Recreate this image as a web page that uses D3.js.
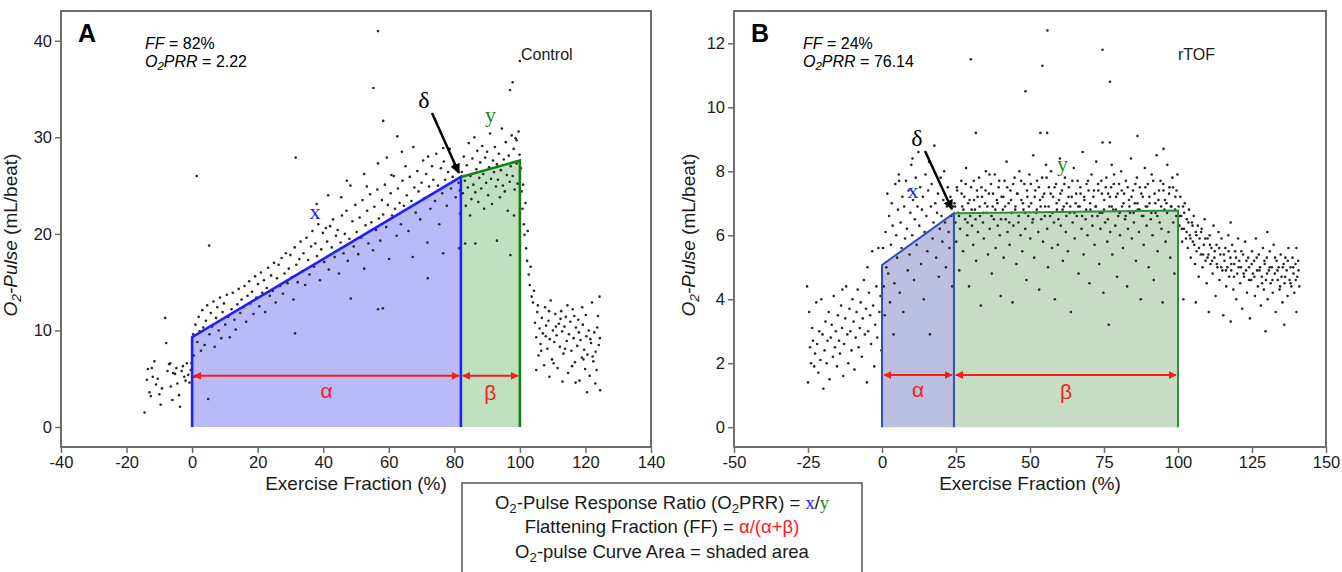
<!DOCTYPE html>
<html>
<head>
<meta charset="utf-8">
<script src="https://cdn.jsdelivr.net/npm/d3@7"></script>
<style>
  body { margin: 0; background: #fff; }
  svg { display: block; font-family: "Liberation Sans", Arial, sans-serif; }
</style>
</head>
<body>
<script>
// ---- panel A (Control): [exercise fraction %, O2-pulse mL/beat] ----
const controlRest = [[-14.5,1.5],[-13.8,4.9],[-13.5,6.0],[-13,3.6],[-12.6,3.2],[-12.3,6.1],[-12,5.2],[-11.5,6.8],[-11,4.4],[-10.5,5.0],[-10,3.4],[-9.6,2.3],[-9.2,4.0],[-8.2,11.3],[-7.9,8.7],[-7.5,5.8],[-7,6.5],[-6.7,6.6],[-6.5,4.2],[-6,2.8],[-5.8,5.6],[-5.2,5.5],[-4.8,6.1],[-4.5,4.5],[-4,3.3],[-3.7,2.1],[-3.2,5.8],[-2.8,6.3],[-2.4,5.2],[-2,4.8],[-1.6,6.6],[-1.2,5.4],[-0.8,4.6],[-0.4,5.9],[-0.2,6.6]];
const controlExercise = [[0.3,9.6],[0.5,7.4],[0.8,5.2],[1.0,10.6],[1.4,26.0],[1.6,8.8],[2.0,11.4],[2.3,9.9],[2.7,7.9],[3.1,12.1],[3.4,10.3],[3.8,8.5],[4.2,11.0],[4.6,12.6],[4.9,2.9],[5.2,18.8],[5.3,9.6],[5.7,11.8],[6.1,10.4],[6.5,13.0],[6.9,8.3],[7.3,11.3],[7.7,12.4],[8.1,10.0],[8.5,13.4],[8.9,9.2],[9.3,11.9],[9.7,12.8],[10.1,10.6],[10.6,13.7],[11.0,11.4],[11.5,9.3],[12.0,12.2],[12.4,13.9],[12.9,11.1],[13.3,10.1],[13.8,12.7],[14.2,14.3],[14.7,11.8],[15.1,13.2],[15.6,12.4],[16.0,14.6],[16.5,10.9],[16.9,13.6],[17.4,15.1],[17.8,12.8],[18.3,14.0],[18.7,11.7],[19.2,15.6],[19.6,13.4],[20.1,14.8],[20.5,12.5],[21.0,16.0],[21.4,13.9],[21.9,15.2],[22.3,11.9],[22.8,14.4],[23.2,16.5],[23.7,13.6],[24.1,15.7],[24.6,14.1],[25.0,17.0],[25.5,12.9],[25.9,15.4],[26.4,16.8],[26.8,14.6],[27.3,17.5],[27.7,13.8],[28.2,15.9],[28.6,18.0],[29.1,14.9],[29.5,16.4],[30.0,17.8],[30.4,15.5],[30.9,13.2],[31.3,18.6],[31.4,9.7],[31.6,27.9],[31.8,16.8],[32.2,15.0],[32.7,17.4],[33.1,19.2],[33.6,16.1],[34.0,18.0],[34.5,14.7],[34.9,19.6],[35.4,17.3],[35.8,15.8],[36.3,18.7],[36.7,20.3],[37.2,16.6],[37.6,19.0],[38.0,23.1],[38.1,17.7],[38.5,21.0],[39.0,15.2],[39.4,18.4],[39.9,20.1],[40.3,17.1],[40.8,20.6],[41.2,19.2],[41.5,24.0],[41.7,16.3],[42.1,20.8],[42.6,18.6],[43.0,21.5],[43.5,17.6],[43.9,19.8],[44.4,20.4],[44.8,15.9],[45.3,19.1],[45.5,23.8],[45.7,21.9],[46.2,18.0],[46.6,20.0],[47.1,22.4],[47.2,25.5],[47.5,17.2],[48.0,19.5],[48.3,25.0],[48.4,13.3],[48.9,21.3],[49.3,18.7],[49.8,23.0],[50.2,20.2],[50.7,17.9],[51.1,21.7],[51.6,19.6],[52.0,23.5],[52.5,26.2],[52.5,16.4],[52.9,20.9],[53.3,24.9],[53.4,22.4],[53.8,19.0],[54.3,24.1],[54.7,21.2],[55.2,18.3],[55.3,35.1],[55.6,22.8],[56.1,20.4],[56.5,24.6],[56.7,41.0],[56.7,12.2],[56.7,27.3],[57.0,21.6],[57.4,19.3],[57.9,23.5],[58.2,12.3],[58.3,31.7],[58.3,22.0],[58.8,25.1],[59.2,20.7],[59.4,27.9],[59.7,23.0],[60.1,17.4],[60.6,24.2],[60.8,26.1],[61.0,21.9],[61.5,26.0],[61.9,22.6],[62.4,19.8],[62.6,30.1],[62.8,24.7],[63.3,23.2],[63.7,21.0],[64.0,28.5],[64.2,25.5],[64.6,22.9],[65.1,27.0],[65.5,24.0],[66.0,20.3],[66.4,25.9],[66.9,23.4],[67.3,17.6],[67.5,29.0],[67.8,24.8],[68.2,22.2],[68.7,26.5],[69.1,24.4],[69.6,21.5],[70.0,25.3],[70.5,27.6],[70.9,23.7],[71.4,26.2],[71.8,19.1],[71.9,15.4],[72.0,28.0],[72.3,24.9],[72.7,22.6],[73.2,27.0],[73.6,25.6],[74.1,23.4],[74.5,28.3],[75.0,25.0],[75.4,21.0],[75.9,26.8],[76.3,24.2],[76.6,28.9],[76.6,18.0],[76.8,27.5],[77.2,25.6],[77.7,22.9],[78.1,26.4],[78.6,28.8],[79.0,24.7],[79.5,25.9],[79.9,27.1],[80.4,23.8],[80.8,26.6],[81.3,25.3],[81.5,18.5],[81.7,24.5],[81.8,22.1],
  [82.3,26.4],[82.6,24.2],[82.9,28.0],[83.2,25.5],[83.3,19.0],[83.5,22.9],[83.8,27.1],[84.1,24.8],[84.4,29.4],[84.8,21.9],[84.9,26.0],[85.2,23.6],[85.5,27.8],[85.8,25.1],[86.1,30.0],[86.4,19.0],[86.4,24.3],[86.7,26.7],[87.0,28.6],[87.3,23.3],[87.6,25.8],[87.9,27.4],[88.2,24.7],[88.5,29.1],[88.8,26.2],[89.1,22.6],[89.4,27.9],[89.7,25.3],[90.0,28.5],[90.3,24.0],[90.6,26.9],[90.9,30.4],[91.2,25.7],[91.5,23.1],[91.8,27.6],[92.1,26.4],[92.4,29.0],[92.7,24.9],[93.0,19.3],[93.0,27.2],[93.3,25.6],[93.6,28.3],[93.9,23.8],[94.2,26.6],[94.5,30.9],[94.8,25.0],[95.1,27.7],[95.4,24.4],[95.7,29.5],[96.0,26.1],[96.3,22.4],[96.6,28.1],[96.9,25.4],[97.0,34.9],[97.1,17.8],[97.2,27.0],[97.5,30.2],[97.8,35.7],[97.8,26.0],[98.1,28.8],[98.2,21.9],[98.4,24.6],[98.7,29.9],[99.0,27.3],[99.0,29.7],[99.3,25.2],[99.6,30.6],[99.9,28.2],[100.0,37.9]];
const controlRecovery = [[100.3,26.8],[100.5,24.4],[100.8,22.6],[101.0,25.1],[101.2,21.0],[101.4,19.9],[101.7,23.2],[101.9,18.5],[102.2,17.2],[102.4,20.3],[102.7,15.8],[103.0,14.7],[103.3,16.6],[103.6,13.5],[104.0,12.9],[104.3,14.1],[104.6,10.8],[105.0,9.3],[105.0,5.9],[105.3,11.9],[105.5,12.6],[105.7,7.4],[106.0,10.2],[106.3,8.6],[106.5,7.9],[106.7,11.3],[107.0,9.7],[107.4,6.4],[107.7,12.4],[107.9,9.4],[108.0,10.5],[108.4,8.1],[108.7,11.0],[108.9,12.0],[109.0,5.2],[109.1,9.1],[109.4,13.1],[109.8,7.0],[110.1,10.0],[110.3,6.6],[110.5,8.8],[110.8,11.7],[111.0,10.4],[111.2,9.5],[111.5,6.1],[111.9,10.7],[112.2,8.3],[112.4,11.2],[112.6,12.0],[112.9,9.9],[113.0,4.7],[113.3,7.6],[113.6,10.4],[113.8,8.1],[114.0,11.4],[114.3,8.9],[114.5,12.6],[114.7,5.6],[115.0,9.6],[115.4,10.9],[115.7,7.9],[115.9,6.3],[116.1,12.2],[116.4,9.2],[116.6,11.5],[116.8,6.7],[117.0,4.6],[117.1,10.3],[117.5,8.4],[117.8,11.1],[118.0,9.8],[118.2,4.8],[118.5,9.0],[118.9,7.2],[119.0,12.4],[119.2,10.6],[119.4,7.0],[119.6,8.0],[119.9,6.0],[120.1,11.6],[120.3,9.4],[120.5,3.6],[120.6,7.5],[121.0,10.0],[121.3,5.3],[121.5,9.1],[121.7,8.7],[122.0,12.9],[122.2,7.3],[122.4,6.8],[122.7,9.8],[123.0,4.5],[123.1,7.8],[123.4,5.9],[123.6,10.3],[123.8,11.5],[124.1,8.5],[124.3,13.5],[124.4,9.2],[124.5,3.8]];
const controlX = [[0, 9.3], [82, 25.9]];     // blue slope segment
const controlY = [[82, 25.9], [100, 27.6]];  // green segment

// ---- panel B (rTOF) ----
const tofRest = [[-25.3,4.4],[-25.0,1.4],[-24.6,3.6],[-24.3,2.5],[-24.0,2.0],[-23.6,3.1],[-23.3,2.7],[-22.9,1.9],[-22.6,2.3],[-22.2,3.9],[-21.9,2.6],[-21.5,1.7],[-21.2,3.0],[-20.8,2.1],[-20.5,4.0],[-20.1,2.9],[-19.8,1.2],[-19.4,2.4],[-19.1,3.3],[-18.7,2.0],[-18.4,2.7],[-18.0,3.6],[-17.7,1.5],[-17.3,2.8],[-17.0,3.2],[-16.6,2.2],[-16.3,4.1],[-15.9,2.5],[-15.6,3.0],[-15.2,1.9],[-14.9,3.5],[-14.5,2.7],[-14.2,2.3],[-13.8,3.8],[-13.5,3.1],[-13.4,4.3],[-13.1,1.6],[-12.8,2.6],[-12.4,3.4],[-12.1,4.4],[-11.7,2.9],[-11.4,2.0],[-11.0,3.7],[-10.7,3.0],[-10.3,2.4],[-10.0,4.0],[-9.6,3.3],[-9.3,1.8],[-8.9,2.8],[-8.6,3.6],[-8.2,4.3],[-7.9,2.5],[-7.5,3.1],[-7.2,3.9],[-6.8,2.2],[-6.5,3.4],[-6.1,4.6],[-5.8,2.9],[-5.4,3.7],[-5.1,1.4],[-4.9,5.0],[-4.7,3.0],[-4.4,4.2],[-4.0,3.5],[-3.7,2.6],[-3.3,5.5],[-3.0,3.8],[-2.6,1.9],[-2.3,3.2],[-1.9,4.4],[-1.6,2.8],[-1.2,5.6],[-0.9,3.6],[-0.5,4.1],[-0.2,2.4]];
const tofExercise = [[0.3,5.6],[0.6,4.4],[0.9,3.5],[1.2,6.1],[1.5,5.0],[1.8,7.3],[2.1,4.8],[2.4,6.6],[2.7,3.9],[3.0,5.7],[3.3,7.0],[3.6,6.3],[3.9,2.9],[4.2,4.5],[4.5,7.6],[4.8,6.0],[5.1,5.3],[5.4,6.8],[5.7,7.9],[5.8,7.7],[6.0,4.2],[6.3,6.4],[6.6,5.6],[6.9,7.2],[7.2,3.6],[7.5,6.9],[7.8,5.9],[8.1,7.7],[8.4,6.2],[8.7,4.9],[9.0,7.4],[9.3,5.4],[9.6,6.7],[9.9,8.2],[10.2,6.0],[10.3,8.4],[10.5,7.1],[10.8,4.6],[11.1,6.5],[11.4,7.8],[11.7,5.7],[12.0,6.9],[12.3,8.6],[12.6,6.3],[12.9,7.5],[13.2,5.1],[13.5,6.8],[13.8,7.2],[14.1,4.0],[14.4,6.1],[14.7,7.9],[15.0,6.6],[15.3,5.5],[15.6,7.4],[15.9,8.3],[16.2,2.9],[16.5,6.9],[16.8,7.6],[17.1,5.9],[17.4,6.4],[17.7,8.8],[18.0,7.0],[18.3,5.3],[18.6,6.7],[18.9,7.3],[19.2,4.7],[19.5,6.2],[19.8,7.8],[20.1,6.6],[20.4,5.8],[20.7,7.1],[21.0,8.0],[21.3,6.4],[21.6,5.0],[21.9,6.9],[22.2,7.5],[22.5,6.1],[22.8,5.6],[23.1,7.2],[23.4,6.6],[23.7,4.4],[24.0,6.9],
  [24.5,7.0],[24.8,6.4],[25.1,5.8],[25.4,7.4],[25.8,6.7],[26.1,4.9],[26.4,6.2],[26.8,7.7],[27.1,6.9],[27.4,5.5],[27.8,7.2],[28.1,6.5],[28.4,8.1],[28.8,6.0],[29.1,7.0],[29.4,4.4],[29.8,6.6],[30.0,11.5],[30.1,7.5],[30.4,6.3],[30.8,5.7],[31.1,7.1],[31.4,6.8],[31.7,9.2],[31.8,5.2],[32.1,7.4],[32.4,6.1],[32.8,7.8],[33.1,6.6],[33.4,3.8],[33.8,7.2],[34.1,6.4],[34.4,5.9],[34.8,7.0],[35.1,8.0],[35.4,6.7],[35.8,5.4],[36.1,7.3],[36.4,6.2],[36.8,7.6],[37.1,4.8],[37.4,6.9],[37.8,6.5],[38.1,7.9],[38.4,5.6],[38.8,7.1],[39.1,6.3],[39.4,7.5],[39.8,6.0],[40.1,4.1],[40.4,7.2],[40.8,6.8],[41.1,5.3],[41.4,7.7],[41.8,6.5],[42.1,8.3],[42.4,6.1],[42.8,7.0],[43.1,5.7],[43.4,7.4],[43.8,6.7],[44.1,3.9],[44.4,6.3],[44.8,7.8],[45.1,6.9],[45.4,5.1],[45.8,7.3],[46.1,6.4],[46.4,8.0],[46.8,6.0],[47.1,7.1],[47.4,5.5],[47.8,6.8],[48.1,7.6],[48.5,10.5],[48.4,6.2],[48.8,4.6],[49.1,7.2],[49.4,6.6],[49.8,7.9],[50.1,5.9],[50.4,7.0],[50.8,6.4],[51.1,8.5],[51.4,5.3],[51.8,7.4],[52.1,6.7],[52.4,7.7],[52.8,6.1],[53.1,4.3],[53.5,9.2],[53.4,7.1],[53.8,6.5],[54.1,7.8],[54.2,11.3],[54.4,5.8],[54.8,7.3],[55.1,6.9],[55.4,8.2],[55.8,9.2],[55.9,12.4],[55.8,6.2],[56.1,5.0],[56.4,7.5],[56.8,6.6],[57.1,8.0],[57.4,5.6],[57.8,7.2],[58.1,6.4],[58.4,4.0],[58.8,7.6],[59.1,6.8],[59.4,5.7],[59.8,7.1],[60.1,8.4],[60.4,6.3],[60.8,7.4],[61.1,5.2],[61.4,6.9],[61.8,7.8],[62.1,6.1],[62.4,7.0],[62.8,5.5],[63.1,7.5],[63.4,6.7],[63.8,3.6],[64.1,7.2],[64.4,6.4],[64.8,8.1],[65.1,5.9],[65.4,7.0],[65.8,6.6],[66.1,7.7],[66.4,4.8],[66.8,6.9],[67.1,7.3],[67.4,6.2],[67.8,8.6],[68.1,5.4],[68.4,7.1],[68.8,6.5],[69.1,7.6],[69.4,6.0],[69.8,7.4],[70.1,4.5],[70.4,6.8],[70.8,7.9],[71.1,6.3],[71.4,7.2],[71.8,5.7],[72.1,6.9],[72.4,8.3],[72.8,6.6],[73.1,7.4],[73.4,5.1],[73.8,6.2],[74.1,7.7],[74.5,11.8],[74.5,8.9],[74.4,6.7],[74.8,4.2],[75.1,7.1],[75.4,6.4],[75.8,7.8],[76.1,5.8],[76.6,3.2],[76.4,7.3],[77.0,10.8],[77.0,8.9],[77.6,8.2],[76.8,6.9],[77.1,6.1],[77.4,7.5],[77.8,5.4],[78.1,6.8],[78.4,7.9],[78.8,6.3],[79.1,7.2],[79.4,4.7],[79.8,6.6],[80.1,7.6],[80.4,6.0],[80.8,8.0],[81.1,6.9],[81.4,5.6],[81.8,7.3],[82.1,6.5],[82.4,7.7],[82.8,4.4],[83.1,6.2],[83.4,7.1],[83.8,6.7],[84.1,8.4],[84.4,5.9],[84.8,7.4],[85.1,6.4],[85.4,7.0],[85.8,5.2],[86.1,7.8],[86.3,9.1],[86.4,6.8],[86.8,6.1],[87.1,7.5],[87.4,4.0],[87.8,6.6],[88.1,7.2],[88.4,5.7],[88.8,8.1],[89.1,6.9],[89.4,6.3],[89.8,7.6],[90.1,5.0],[90.4,7.0],[90.8,6.5],[91.1,7.9],[91.4,6.0],[91.8,4.6],[92.1,7.3],[92.4,6.7],[92.8,8.5],[93.1,5.5],[93.4,7.1],[93.8,6.4],[94.1,7.7],[94.4,6.2],[94.8,3.9],[95.1,8.7],[95.1,7.4],[95.4,6.8],[95.8,5.8],[96.1,7.0],[96.4,8.2],[96.8,6.1],[97.1,7.5],[97.4,5.3],[97.8,6.9],[98.1,7.8],[98.4,6.4],[98.8,4.8],[99.1,7.2],[99.4,6.6],[99.8,7.9]];
// the dense cloud hugging the plateau line
const tofPlateau = [[24.7,6.9],[25.3,7.5],[26.0,6.6],[26.9,7.3],[27.5,6.8],[28.3,7.6],[28.9,6.4],[29.6,7.1],[30.3,6.8],[31.0,7.7],[31.6,6.5],[32.3,7.2],[33.0,6.9],[33.6,7.5],[34.2,6.7],[35.0,7.4],[35.6,6.9],[36.3,7.9],[37.0,6.6],[37.5,7.3],[38.3,6.8],[39.0,7.0],[39.6,7.7],[40.2,6.5],[41.0,7.2],[41.6,6.9],[42.3,7.5],[43.0,6.4],[43.6,7.1],[44.3,7.6],[45.0,6.8],[45.6,7.3],[46.2,6.6],[47.0,7.7],[47.6,7.0],[48.3,6.7],[49.0,7.4],[49.6,6.9],[50.3,7.6],[51.0,6.5],[51.6,7.2],[52.3,6.8],[53.0,7.5],[53.6,6.9],[54.3,7.2],[55.0,6.6],[55.6,7.8],[56.3,6.9],[57.0,7.3],[57.6,6.7],[58.3,7.5],[59.0,7.0],[59.6,6.5],[60.3,7.3],[61.0,6.8],[61.6,7.6],[62.3,6.6],[63.0,7.2],[63.6,6.9],[64.3,7.7],[65.0,6.7],[65.6,7.3],[66.3,6.9],[67.0,7.5],[67.6,6.6],[68.3,7.2],[69.0,6.8],[69.6,7.7],[70.3,7.0],[71.0,6.6],[71.6,7.4],[72.3,6.9],[73.0,7.6],[73.6,6.7],[74.3,7.3],[75.0,6.8],[75.6,7.5],[76.3,6.5],[77.0,7.2],[77.6,6.9],[78.3,7.6],[79.0,6.8],[79.6,7.3],[80.3,6.7],[81.0,7.4],[81.6,7.0],[82.3,6.6],[83.0,7.5],[83.6,6.9],[84.3,7.2],[85.0,6.7],[85.6,7.6],[86.3,7.0],[87.0,6.8],[87.6,7.3],[88.3,6.6],[89.0,7.5],[89.6,6.9],[90.3,7.2],[91.0,6.7],[91.6,7.7],[92.3,7.0],[93.0,6.6],[93.6,7.4],[94.3,6.9],[95.0,7.6],[95.6,7.1],[96.3,6.7],[97.0,7.3],[97.6,6.9],[98.3,7.5],[99.0,6.8],[99.5,7.4]];
const tofRecovery = [[100.2,6.9],[100.5,6.3],[100.6,6.6],[100.8,7.2],[101.1,6.6],[101.3,6.2],[101.4,5.8],[101.8,4.0],[101.7,6.9],[102.0,6.2],[102.1,6.7],[102.3,7.0],[102.7,5.9],[102.9,6.1],[103.0,6.5],[103.3,5.6],[103.5,6.4],[103.7,6.8],[104.0,6.0],[104.2,5.9],[104.3,5.3],[104.7,6.4],[104.9,6.3],[105.0,5.8],[105.3,6.6],[105.5,5.7],[105.7,5.1],[106.0,3.9],[106.0,6.1],[106.2,6.0],[106.3,5.5],[106.7,6.3],[107.0,4.7],[107.1,5.6],[107.3,5.9],[107.7,5.4],[107.8,6.1],[108.0,6.2],[108.3,5.0],[108.5,5.4],[108.7,5.7],[109.0,6.5],[109.2,5.9],[109.3,5.2],[109.7,4.5],[110.0,5.9],[110.0,5.3],[110.4,3.6],[110.3,5.4],[110.7,6.0],[110.8,5.7],[111.0,5.1],[111.3,5.6],[111.5,5.2],[111.7,4.8],[112.0,6.3],[112.3,5.3],[112.4,5.5],[112.7,4.1],[113.0,5.7],[113.1,5.1],[113.3,5.0],[113.7,6.1],[113.9,5.6],[114.0,4.6],[114.3,5.4],[114.6,5.0],[114.7,5.9],[115.0,4.9],[115.3,3.5],[115.5,5.4],[115.7,5.2],[116.0,5.6],[116.2,4.9],[116.3,4.4],[116.7,5.0],[117.0,6.0],[117.1,5.5],[117.3,4.7],[117.8,6.4],[117.8,3.3],[117.7,5.3],[118.0,4.9],[118.0,5.1],[118.3,5.7],[118.7,4.3],[118.9,4.7],[119.0,5.1],[119.3,5.5],[119.6,5.3],[119.7,4.0],[120.0,4.8],[120.3,5.9],[120.5,5.0],[120.7,5.2],[121.0,4.5],[121.3,5.0],[121.4,5.5],[121.7,3.7],[122.0,5.4],[122.2,4.8],[122.3,4.7],[122.7,5.8],[123.0,4.9],[123.1,5.2],[123.3,4.2],[123.7,5.3],[124.0,5.0],[124.0,4.6],[124.3,3.4],[124.7,4.6],[124.9,5.1],[125.0,5.5],[125.3,4.8],[125.7,5.2],[125.8,4.7],[126.0,4.1],[126.3,5.9],[126.6,5.3],[126.7,4.9],[127.0,4.4],[127.3,5.4],[127.5,4.9],[127.7,5.0],[128.0,3.8],[128.3,4.7],[128.4,4.5],[128.7,5.6],[129.0,4.3],[129.2,5.2],[129.6,3.0],[129.3,5.1],[129.7,4.6],[130.1,4.8],[130.2,6.1],[130.0,5.3],[130.3,4.0],[130.7,4.9],[131.0,5.5],[131.0,5.0],[131.3,4.5],[131.7,5.0],[131.9,4.6],[132.0,4.2],[132.3,5.7],[132.7,4.8],[132.8,5.3],[133.0,3.6],[133.3,5.2],[133.6,4.9],[133.7,4.6],[134.0,5.0],[134.3,4.3],[134.5,4.4],[134.7,5.4],[135.0,4.7],[135.3,3.9],[135.4,5.0],[135.9,3.2],[135.7,5.1],[136.0,4.5],[136.2,4.7],[136.3,5.3],[136.7,4.9],[137.0,4.1],[137.1,5.2],[137.3,5.6],[137.7,4.6],[138.0,5.0],[138.0,4.5],[138.3,4.4],[138.7,5.3],[138.9,5.0],[139.0,4.8],[139.3,4.2],[139.7,5.1],[139.8,4.6],[140.0,5.6],[140.0,3.6],[140.3,4.7],[140.6,5.2],[140.7,4.9],[141.0,4.4]];
const tofX = [[0, 5.07], [24.3, 6.69]];
const tofY = [[24.3, 6.69], [100, 6.77]];

const ticksA = [-40, -20, 0, 20, 40, 60, 80, 100, 120, 140];
const ticksAy = [0, 10, 20, 30, 40];
const ticksB = [-50, -25, 0, 25, 50, 75, 100, 125, 150];
const ticksBy = [0, 2, 4, 6, 8, 10, 12];

const W = 1342, H = 572;
const svg = d3.select("body").append("svg").attr("width", W).attr("height", H);
svg.append("rect").attr("width", W).attr("height", H).attr("fill", "#fff");

const defs = svg.append("defs");
defs.append("marker").attr("id", "redhead").attr("viewBox", "0 0 10 10")
  .attr("refX", 9).attr("refY", 5).attr("markerWidth", 4).attr("markerHeight", 4)
  .attr("orient", "auto-start-reverse")
  .append("path").attr("d", "M0,0 L10,5 L0,10 z").attr("fill", "#ff1a1a");
defs.append("marker").attr("id", "blackhead").attr("viewBox", "0 0 10 10")
  .attr("refX", 9).attr("refY", 5).attr("markerWidth", 4).attr("markerHeight", 4.5)
  .attr("orient", "auto")
  .append("path").attr("d", "M0,0 L10,5 L0,10 z").attr("fill", "#000");

const SERIF = "'Liberation Serif','Times New Roman',serif";

// write mixed text with subscripts / colours
function rich(sel, parts) {
  parts.forEach(p => {
    const t = sel.append("tspan").text(p.t);
    if (p.sub) t.attr("font-size", "0.72em").attr("dy", "0.28em");
    if (p.after) t.attr("dy", "-0.2em");
    if (p.fill) t.attr("fill", p.fill);
    if (p.italic) t.attr("font-style", "italic");
    if (p.serif) t.attr("font-family", SERIF);
  });
}

function panel(o) {
  const x = d3.scaleLinear().domain(o.xDomain).range([o.left, o.right]);
  const y = d3.scaleLinear().domain(o.yDomain).range([447, 11]);
  const g = svg.append("g");
  const line = d3.line().x(d => x(d[0])).y(d => y(d[1]));

  const a = o.segX, b = o.segY;
  g.append("path").attr("d", line([[a[0][0], 0], a[0], a[1], [a[1][0], 0]]) + "Z")
    .attr("fill", o.blueFill);
  g.append("path").attr("d", line([[b[0][0], 0], b[0], b[1], [b[1][0], 0]]) + "Z")
    .attr("fill", o.greenFill);

  g.selectAll("circle.dot").data(o.points).enter().append("circle")
    .attr("class", "dot")
    .attr("cx", d => x(d[0])).attr("cy", d => y(d[1])).attr("r", 1.3)
    .attr("fill", "#262626");

  g.append("path").attr("d", line([[a[0][0], 0], a[0], a[1], [a[1][0], 0]]))
    .attr("fill", "none").attr("stroke", o.blueLine).attr("stroke-width", o.lw);
  g.append("path").attr("d", line([b[0], b[1], [b[1][0], 0]]))
    .attr("fill", "none").attr("stroke", o.greenLine).attr("stroke-width", o.lw);

  // alpha / beta span arrows
  const ya = y(o.arrowY);
  [[a[0][0], a[1][0]], [b[0][0], b[1][0]]].forEach(s => {
    g.append("line").attr("x1", x(s[0]) + 2).attr("x2", x(s[1]) - 2)
      .attr("y1", ya).attr("y2", ya)
      .attr("stroke", "#ff1a1a").attr("stroke-width", 2)
      .attr("marker-start", "url(#redhead)").attr("marker-end", "url(#redhead)");
  });
  g.append("text").attr("x", x((a[0][0] + a[1][0]) / 2)).attr("y", ya + 22)
    .attr("text-anchor", "middle").attr("font-size", 21).attr("fill", "#ff1a1a").text("α");
  g.append("text").attr("x", x((b[0][0] + b[1][0]) / 2)).attr("y", ya + 24)
    .attr("text-anchor", "middle").attr("font-size", 21).attr("fill", "#ff1a1a").text("β");

  // x / y / delta labels
  g.append("text").attr("x", x(o.xLab[0])).attr("y", y(o.xLab[1]))
    .attr("text-anchor", "middle").attr("font-family", SERIF).attr("font-size", 22)
    .attr("fill", "#1a1aff").text("x");
  g.append("text").attr("x", x(o.yLab[0])).attr("y", y(o.yLab[1]))
    .attr("text-anchor", "middle").attr("font-family", SERIF).attr("font-size", 22)
    .attr("fill", "#1a8a1a").text("y");
  g.append("text").attr("x", o.delta.tx).attr("y", o.delta.ty)
    .attr("text-anchor", "middle").attr("font-family", SERIF).attr("font-size", 24)
    .text("δ");
  g.append("line").attr("x1", o.delta.x1).attr("y1", o.delta.y1)
    .attr("x2", x(a[1][0]) - 2).attr("y2", y(a[1][1]) - 4)
    .attr("stroke", "#000").attr("stroke-width", 2.5).attr("marker-end", "url(#blackhead)");

  // frame and axes
  g.append("rect").attr("x", o.left).attr("y", 11)
    .attr("width", o.right - o.left).attr("height", 436)
    .attr("fill", "none").attr("stroke", "#6e6e6e").attr("stroke-width", 2);

  const ax = g.append("g").attr("transform", `translate(0,447)`)
    .call(d3.axisBottom(x).tickValues(o.xTicks).tickFormat(d => String(d)).tickSizeOuter(0));
  const ay = g.append("g").attr("transform", `translate(${o.left},0)`)
    .call(d3.axisLeft(y).tickValues(o.yTicks).tickFormat(d => String(d)).tickSizeOuter(0));
  [ax, ay].forEach(s => {
    s.select(".domain").remove();
    s.selectAll(".tick line").attr("stroke", "#6e6e6e").attr("stroke-width", 1.5);
    s.selectAll(".tick text").attr("font-size", 16.5).attr("fill", "#1a1a1a")
      .attr("font-family", "'Liberation Sans',Arial,sans-serif");
  });

  g.append("text").attr("x", (o.left + o.right) / 2).attr("y", 490)
    .attr("text-anchor", "middle").attr("font-size", 19).attr("fill", "#1a1a1a")
    .text("Exercise Fraction (%)");

  const yl = g.append("text")
    .attr("transform", `translate(${o.yTitleX},235) rotate(-90)`)
    .attr("text-anchor", "middle").attr("font-size", 19).attr("fill", "#1a1a1a");
  rich(yl, [{t: "O", italic: true}, {t: "2", sub: true, italic: true},
            {t: "-Pulse", italic: true, after: true}, {t: " (mL/beat)"}]);

  // panel letter and statistics
  g.append("text").attr("x", o.left + 17).attr("y", 42)
    .attr("font-size", 25).attr("font-weight", "bold").text(o.letter);
  const t1 = g.append("text").attr("x", o.statsX).attr("y", 49).attr("font-size", 16);
  rich(t1, [{t: "FF", italic: true}, {t: " = " + o.ff}]);
  const t2 = g.append("text").attr("x", o.statsX).attr("y", 67).attr("font-size", 16);
  rich(t2, [{t: "O", italic: true}, {t: "2", sub: true, italic: true},
            {t: "PRR", italic: true, after: true}, {t: " = " + o.prr}]);
  g.append("text").attr("x", o.groupX).attr("y", 60).attr("font-size", 16)
    .attr("fill", "#1a1a1a").text(o.group);
}

panel({
  letter: "A", ff: "82%", prr: "2.22", group: "Control", groupX: 521, statsX: 145,
  left: 61, right: 651, xDomain: [-40, 140], yDomain: [-2.07, 43.08],
  xTicks: ticksA, yTicks: ticksAy, yTitleX: 17,
  points: controlRest.concat(controlExercise, controlRecovery),
  segX: controlX, segY: controlY, arrowY: 5.3, lw: 2.6,
  blueFill: "#b9bbf9", greenFill: "#bfe1bf", blueLine: "#1f1fff", greenLine: "#138013",
  xLab: [37.5, 21.5], yLab: [91, 31.6],
  delta: {tx: 424, ty: 108, x1: 432, y1: 113}
});

panel({
  letter: "B", ff: "24%", prr: "76.14", group: "rTOF", groupX: 1178, statsX: 803,
  left: 734, right: 1326, xDomain: [-50, 150], yDomain: [-0.62, 13.01],
  xTicks: ticksB, yTicks: ticksBy, yTitleX: 695,
  points: tofRest.concat(tofExercise, tofPlateau, tofRecovery),
  segX: tofX, segY: tofY, arrowY: 1.63, lw: 2,
  blueFill: "#bcc0e0", greenFill: "#c6dcc3", blueLine: "#2f4fb5", greenLine: "#2e8f3a",
  xLab: [10.5, 7.15], yLab: [61, 8.0],
  delta: {tx: 917, ty: 146, x1: 925, y1: 151}
});

// definitions box
const box = svg.append("g");
box.append("rect").attr("x", 462).attr("y", 483).attr("width", 400).attr("height", 100)
  .attr("fill", "#fff").attr("stroke", "#555").attr("stroke-width", 1.5);
const l1 = box.append("text").attr("x", 662).attr("y", 509).attr("text-anchor", "middle")
  .attr("font-size", 18.5).attr("fill", "#1a1a1a");
rich(l1, [{t: "O"}, {t: "2", sub: true}, {t: "-Pulse Response Ratio (O", after: true},
          {t: "2", sub: true}, {t: "PRR) = ", after: true},
          {t: "x", fill: "#1a1aff", serif: true}, {t: "/"}, {t: "y", fill: "#1a8a1a", serif: true}]);
const l2 = box.append("text").attr("x", 662).attr("y", 533).attr("text-anchor", "middle")
  .attr("font-size", 18.5).attr("fill", "#1a1a1a");
rich(l2, [{t: "Flattening Fraction (FF) = "}, {t: "α/(α+β)", fill: "#ff1a1a"}]);
const l3 = box.append("text").attr("x", 662).attr("y", 558).attr("text-anchor", "middle")
  .attr("font-size", 18.5).attr("fill", "#1a1a1a");
rich(l3, [{t: "O"}, {t: "2", sub: true}, {t: "-pulse Curve Area = shaded area", after: true}]);
</script>
</body>
</html>
